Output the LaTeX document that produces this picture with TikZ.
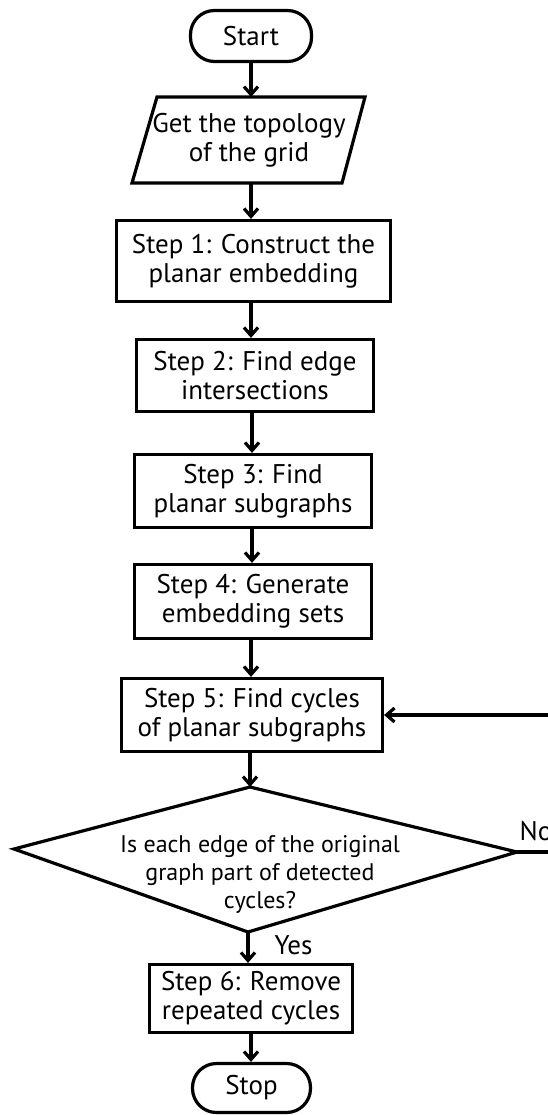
\documentclass[tikz,border=0pt]{standalone}
\usepackage{fontspec}
\setmainfont{PT Sans}
\usetikzlibrary{arrows.meta}
\begin{document}
\begin{tikzpicture}[x=1pt,y=-1pt,
  line width=3.2pt,
  boxstyle/.style={draw, rectangle, align=center, inner sep=0pt,
    font=\fontsize{27}{29}\selectfont},
  termstyle/.style={draw, rectangle, rounded corners=24pt, align=center, inner sep=0pt,
    font=\fontsize{27}{29}\selectfont},
  txt/.style={align=center, inner sep=0pt, font=\fontsize{27}{29}\selectfont},
  dtxt/.style={align=center, inner sep=0pt, font=\fontsize{24}{28}\selectfont},
  arr/.style={-{Straight Barb[length=8pt,width=14pt]}, line join=miter}]
\useasboundingbox (0,0) rectangle (548,1115);
\clip (0,0) rectangle (548,1115);
\fill[white] (0,0) rectangle (548,1115);

\node[termstyle, minimum width=121pt, minimum height=51pt] (start) at (251,36) {Start};

% input parallelogram
\coordinate (iotl) at (157,97);
\coordinate (iotr) at (365,97);
\coordinate (iobr) at (342,183);
\coordinate (iobl) at (132,183);
\draw[line join=miter] (iotl) -- (iotr) -- (iobr) -- (iobl) -- cycle;
\node[txt] (io) at (249,140) {Get the topology\\of the grid};
\coordinate (iotop) at (251,97);
\coordinate (iobot) at (251,183);

\node[boxstyle, minimum width=274pt, minimum height=81pt] (s1) at (253.5,261) {Step 1: Construct the\\planar embedding};
\node[boxstyle, minimum width=237pt, minimum height=72pt] (s2) at (255,375.5) {Step 2: Find edge\\intersections};
\node[boxstyle, minimum width=237pt, minimum height=73pt] (s3) at (253,491) {Step 3: Find\\planar subgraphs};
\node[boxstyle, minimum width=237pt, minimum height=74pt] (s4) at (253,601.5) {Step 4: Generate\\embedding sets};
\node[boxstyle, minimum width=261pt, minimum height=73pt] (s5) at (252,715) {Step 5: Find cycles\\of planar subgraphs};

% decision diamond
\coordinate (dtop) at (250,787);
\coordinate (dleft) at (14,849);
\coordinate (dright) at (517,852);
\coordinate (dbot) at (248,932);
\draw[line join=miter] (dtop) -- (dright) -- (dbot) -- (dleft) -- cycle;
\node[dtxt] (dec) at (260,874) {Is each edge of the original\\graph part of detected\\cycles?};

\node[boxstyle, minimum width=203pt, minimum height=68pt] (s6) at (251,998.5) {Step 6: Remove\\repeated cycles};
\node[termstyle, minimum width=118pt, minimum height=49pt] (stop) at (251.5,1088) {Stop};

% connectors
\draw[arr] (start.south) -- (start.south |- iotop);
\draw[arr] (iobot) -- (iobot |- s1.north);
\draw[arr] (s1.south -| 251,0) -- (251,0 |- s2.north);
\draw[arr] (s2.south -| 252,0) -- (252,0 |- s3.north);
\draw[arr] (s3.south -| 252,0) -- (252,0 |- s4.north);
\draw[arr] (s4.south -| 251,0) -- (251,0 |- s5.north);
\draw[arr] (s5.south -| 250,0) -- (dtop);
\draw[arr] (dbot) -- (dbot |- s6.north);
\draw[arr] (s6.south -| 251,0) -- (251,0 |- stop.north);
\draw[arr] (dright) -- ++(60,0) |- (s5.east);

\node[txt, anchor=west] (yes) at (273,945) {Yes};
\node[txt, anchor=west] (no) at (518,831) {No};
\end{tikzpicture}
\end{document}
